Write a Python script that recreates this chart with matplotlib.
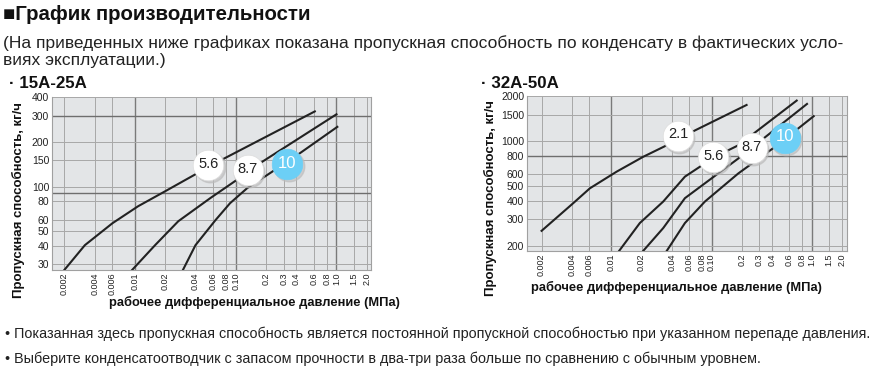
import matplotlib
matplotlib.use("Agg")
import matplotlib.pyplot as plt
from matplotlib.ticker import FixedLocator, NullLocator

plt.rcParams['font.family'] = ['Liberation Sans', 'DejaVu Sans']

# x ticks (pressure, MPa)
x_ticks = [0.002, 0.004, 0.006, 0.01, 0.02, 0.04, 0.06, 0.08, 0.10,
           0.2, 0.3, 0.4, 0.6, 0.8, 1.0, 1.5, 2.0]
x_labels = ["0.002", "0.004", "0.006", "0.01", "0.02", "0.04", "0.06", "0.08", "0.10",
            "0.2", "0.3", "0.4", "0.6", "0.8", "1.0", "1.5", "2.0"]

# 15A-25A
small_yticks = [30, 40, 50, 60, 80, 100, 150, 200, 300, 400]
small_x_56 = [0.002, 0.0032, 0.006, 0.0108, 0.020, 0.040, 0.075, 0.61]
small_y_56 = [27.5, 40.4, 56.7, 73.8, 93, 121, 153, 320]
small_x_87 = [0.0094, 0.0159, 0.027, 0.056, 0.099, 0.187, 1.0]
small_y_87 = [27.5, 40.4, 58.5, 83.6, 109, 148, 306]
small_x_10 = [0.030, 0.040, 0.063, 0.088, 0.130, 0.235, 0.436, 1.02]
small_y_10 = [27.5, 40.4, 59.4, 77.3, 97.5, 127, 168, 252]
small_tags = ["5.6", "8.7", "10"]
small_tag_x = [0.0537, 0.132, 0.326]
small_tag_y = [139, 129, 141]

# 32A-50A
big_yticks = [200, 300, 400, 500, 600, 800, 1000, 1500, 2000]
big_x_21 = [0.002, 0.00414, 0.00608, 0.01125, 0.0207, 0.0356, 0.0682, 0.224]
big_y_21 = [251, 384, 483, 624, 784, 936, 1177, 1742]
big_x_56 = [0.0119, 0.0192, 0.0329, 0.0542, 0.108, 0.185, 0.71]
big_y_56 = [184, 283, 394, 578, 784, 936, 1864]
big_x_87 = [0.0207, 0.0329, 0.0542, 0.185, 0.90]
big_y_87 = [184, 262, 415, 764, 1770]
big_x_10 = [0.0356, 0.0542, 0.0859, 0.185, 0.431, 1.05]
big_y_10 = [184, 283, 394, 607, 914, 1466]
big_tags = ["2.1", "5.6", "8.7", "10"]
big_tag_x = [0.0461, 0.104, 0.252, 0.542]
big_tag_y = [1086, 784, 900, 1048]

W, H = 879, 373
fig = plt.figure(figsize=(W / 100, H / 100), dpi=100)


def px_axes(left, top, right, bottom):
    return fig.add_axes([left / W, 1 - bottom / H, (right - left) / W, (bottom - top) / H])


def ftext(x, y, s, **kw):
    fig.text(x / W, 1 - y / H, s, **kw)


def setup(ax, xlim, ylim, yticks):
    ax.set_xscale('log')
    ax.set_yscale('log')
    ax.set_xlim(*xlim)
    ax.set_ylim(*ylim)
    ax.set_facecolor('#e3e5e7')
    ax.xaxis.set_major_locator(FixedLocator(x_ticks))
    ax.xaxis.set_minor_locator(NullLocator())
    ax.set_xticklabels(x_labels, rotation=90, fontsize=6.5, color='#222222')
    ax.yaxis.set_major_locator(FixedLocator(yticks))
    ax.yaxis.set_minor_locator(NullLocator())
    ax.set_yticklabels([str(v) for v in yticks], fontsize=7.5, color='#222222')
    ax.tick_params(length=0, pad=2)
    for x in x_ticks:
        dark = x in (0.01, 0.10, 1.0)
        ax.axvline(x, color='#7a7a7a' if dark else '#a8a8a8', lw=1.0 if dark else 0.7, zorder=1)
    for y in yticks:
        ax.axhline(y, color='#a8a8a8', lw=0.7, zorder=1)
    for s in ax.spines.values():
        s.set_color('#a0a0a0')
        s.set_linewidth(0.8)
    ax.spines['top'].set_visible(False)


def bubbles(ax, tags, xs, ys):
    for t, x, y in zip(tags, xs, ys):
        blue = t == "10"
        ax.plot(x * 1.03, y * 0.97, 'o', ms=22, color='#bbbbbb', alpha=0.6, zorder=4)
        ax.plot(x, y, 'o', ms=22, color='#6ccff6' if blue else 'white',
                mec='#6ccff6' if blue else '#dddddd', mew=0.5, zorder=5)
        ax.text(x, y * 1.02, t, ha='center', va='center', zorder=6,
                fontsize=12 if blue else 10.5, color='white' if blue else '#222222')


# left chart
ax1 = px_axes(52, 97, 371, 270)
setup(ax1, (0.00151, 2.2), (27.5, 400), small_yticks)
ax1.axhline(300, color='#6e6e6e', lw=1.0, zorder=1)
ax1.axhline(90, color='#6e6e6e', lw=1.0, zorder=1)
for xs, ys in [(small_x_56, small_y_56), (small_x_87, small_y_87), (small_x_10, small_y_10)]:
    ax1.plot(xs, ys, color='#222222', lw=1.5, zorder=3)
bubbles(ax1, small_tags, small_tag_x, small_tag_y)

# right chart
ax2 = px_axes(527, 96, 847, 251)
setup(ax2, (0.00143, 2.26), (184, 2000), big_yticks)
ax2.axhline(800, color='#6e6e6e', lw=1.0, zorder=1)
for xs, ys in [(big_x_21, big_y_21), (big_x_56, big_y_56), (big_x_87, big_y_87), (big_x_10, big_y_10)]:
    ax2.plot(xs, ys, color='#222222', lw=1.5, zorder=3)
bubbles(ax2, big_tags, big_tag_x, big_tag_y)

# texts
ftext(3, 20, "■График производительности", fontsize=14.7, fontweight='bold', color='#111111')
ftext(3, 48, "(На приведенных ниже графиках показана пропускная способность по конденсату в фактических усло-",
      fontsize=12.5, color='#222222')
ftext(3, 65, "виях эксплуатации.)", fontsize=12.5, color='#222222')
ftext(9, 88, "· 15A-25A", fontsize=12.2, fontweight='bold', color='#111111')
ftext(481, 88, "· 32A-50A", fontsize=12.2, fontweight='bold', color='#111111')

ylab = "Пропускная способность, кг/ч"
xlab = "рабочее дифференциальное давление (МПа)"
ftext(18, 200, ylab, rotation=90, fontsize=9.5, fontweight='bold', ha='center', va='center', color='#111111')
ftext(490, 198, ylab, rotation=90, fontsize=9.5, fontweight='bold', ha='center', va='center', color='#111111')
ftext(254, 302, xlab, fontsize=9.3, fontweight='bold', ha='center', va='center', color='#111111')
ftext(676, 287, xlab, fontsize=9.3, fontweight='bold', ha='center', va='center', color='#111111')

ftext(5, 338, "• Показанная здесь пропускная способность является постоянной пропускной способностью при указанном перепаде давления.",
      fontsize=10.4, color='#222222')
ftext(5, 363, "• Выберите конденсатоотводчик с запасом прочности в два-три раза больше по сравнению с обычным уровнем.",
      fontsize=10.4, color='#222222')

fig.savefig("out.png", dpi=100)
